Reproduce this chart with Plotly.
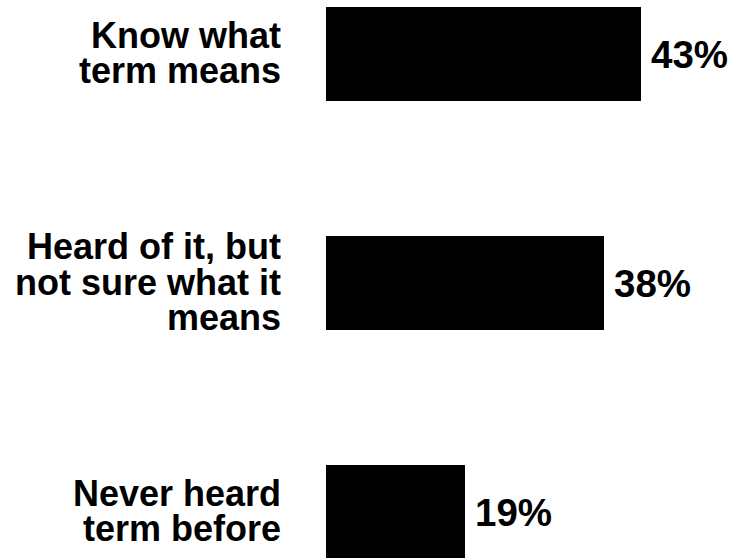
import plotly.graph_objects as go

# Survey responses: awareness of the term
categories = ["Know what term means", "Heard of it, but not sure what it means", "Never heard term before"]
label_lines = [["Know what", "term means"],
               ["Heard of it, but", "not sure what it", "means"],
               ["Never heard", "term before"]]
values = [43, 38, 19]
value_labels = ["43%", "38%", "19%"]

W, H = 732, 558
LEFT = 326
PX_PER_PCT = 315 / 43
ROW_PX = 229
FIRST_ROW_PX = 54
LINE_PX = 35.5

FONT = "Liberation Sans, Arial, Helvetica, sans-serif"
positions = list(range(len(categories)))

fig = go.Figure(go.Bar(
    x=values,
    y=positions,
    orientation="h",
    width=94 / ROW_PX,
    marker=dict(color="#000000", line=dict(width=0)),
    hoverinfo="skip",
))

annotations = []
# Category labels, right-aligned, one annotation per line (tight line pitch)
for pos, lines in zip(positions, label_lines):
    n = len(lines)
    for i, line in enumerate(lines):
        annotations.append(dict(
            x=0, y=pos, xref="x", yref="y",
            text=line, showarrow=False,
            xanchor="right", yanchor="middle", align="right", valign="middle",
            height=35, borderpad=0,
            xshift=-44, yshift=-(i - (n - 1) / 2) * LINE_PX + 1,
            font=dict(family=FONT, size=36, color="#000000", weight=700),
        ))

# Value labels at the end of each bar
for pos, v, txt in zip(positions, values, value_labels):
    annotations.append(dict(
        x=v, y=pos, xref="x", yref="y",
        text=txt, showarrow=False,
        xanchor="left", yanchor="middle",
        xshift=8, yshift=0,
        font=dict(family=FONT, size=38.5, color="#000000", weight=700),
    ))

plot_w = W - LEFT
fig.update_layout(
    width=W, height=H,
    margin=dict(l=LEFT, r=0, t=0, b=0),
    paper_bgcolor="white", plot_bgcolor="white",
    showlegend=False,
    bargap=0,
    xaxis=dict(range=[0, plot_w / PX_PER_PCT], visible=False, fixedrange=True),
    yaxis=dict(range=[(H - FIRST_ROW_PX) / ROW_PX, -FIRST_ROW_PX / ROW_PX],
               visible=False, fixedrange=True),
    annotations=annotations,
)

fig.write_html("out.html", config={"displayModeBar": False})
